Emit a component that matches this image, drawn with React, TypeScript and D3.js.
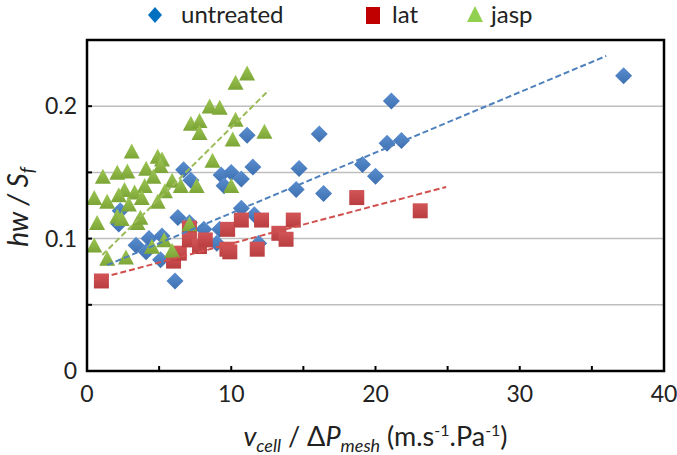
import React from "react";
import * as d3 from "d3";

// ---- data ----
const untreatedX = [37.2, 21.1, 16.1, 11.1, 20.8, 21.8, 19.1, 20.0, 14.7, 14.5, 16.4, 11.5, 6.7, 7.2, 9.3, 10.0, 10.7, 9.5, 10.7, 11.6, 6.3, 7.1, 2.2, 2.3, 8.1, 9.2, 4.3, 5.2, 3.4, 4.1, 5.1, 9.0, 11.9, 6.1];
const untreatedY = [0.223, 0.204, 0.179, 0.178, 0.172, 0.174, 0.156, 0.147, 0.153, 0.137, 0.134, 0.154, 0.152, 0.144, 0.148, 0.150, 0.145, 0.140, 0.123, 0.118, 0.116, 0.112, 0.111, 0.121, 0.107, 0.107, 0.100, 0.102, 0.095, 0.090, 0.084, 0.0965, 0.0965, 0.068];

const latX = [1.0, 6.0, 6.4, 7.1, 7.1, 7.8, 8.2, 9.75, 10.7, 12.1, 9.7, 9.9, 11.8, 13.3, 13.8, 14.3, 18.7, 23.1];
const latY = [0.068, 0.083, 0.089, 0.108, 0.099, 0.094, 0.099, 0.107, 0.114, 0.114, 0.092, 0.090, 0.092, 0.104, 0.0995, 0.114, 0.131, 0.121];

const jaspX = [11.1, 10.3, 8.5, 9.2, 7.2, 7.8, 7.8, 10.3, 10.1, 12.3, 8.7, 10.0, 3.1, 4.9, 5.2, 5.1, 4.1, 4.6, 1.1, 2.1, 2.8, 5.9, 6.5, 7.6, 4.0, 2.6, 3.3, 2.2, 5.4, 3.8, 0.5, 1.4, 2.9, 4.9, 2.1, 2.4, 3.5, 3.7, 0.7, 7.1, 0.5, 1.4, 2.7, 4.5, 5.35, 5.9];
const jaspY = [0.224, 0.217, 0.199, 0.198, 0.186, 0.188, 0.179, 0.189, 0.174, 0.180, 0.158, 0.139, 0.165, 0.161, 0.159, 0.154, 0.152, 0.146, 0.146, 0.149, 0.150, 0.143, 0.139, 0.139, 0.139, 0.136, 0.134, 0.132, 0.135, 0.130, 0.130, 0.127, 0.125, 0.127, 0.116, 0.114, 0.111, 0.115, 0.111, 0.110, 0.094, 0.084, 0.085, 0.093, 0.098, 0.090];

// trendline endpoints [x0, y0, x1, y1]
const trendUntreated = [1.4, 0.080, 36.0, 0.238];
const trendLat = [0.5, 0.069, 24.9, 0.139];
const trendJasp = [1.06, 0.0876, 12.6, 0.212];

const xTicks = [0, 10, 20, 30, 40];
const xMinorTicks = [5, 10, 15, 20, 25, 30, 35];
const yTickLabels = [0, 0.1, 0.2];
const yMinorTicks = [0.05, 0.1, 0.15, 0.2];
const gridValues = [0.05, 0.1, 0.15, 0.2];

const seriesNames = ["untreated", "lat", "jasp"];

// ---- layout ----
const W = 677, H = 455;
const L = 87, R = 664, T = 40, B = 371;
const FONT = "Lato, 'Open Sans', sans-serif";

const C = { blueLeg: "#0070C0", redLeg: "#C00000", greenLeg: "#92D050" };

const diamond = "M0,-8.5L8.5,0L0,8.5L-8.5,0Z";
const square = "M-7.5,-7.5H7.5V7.5H-7.5Z";
const triangle = "M0,-9L8,6L-8,6Z";

export default function App() {
  const x = d3.scaleLinear().domain([0, 40]).range([L, R]);
  const y = d3.scaleLinear().domain([0, 0.25]).range([B, T]);

  const pts = (xs: number[], ys: number[]) => xs.map((v, i) => [x(v), y(ys[i])]);
  const trend = (t: number[], color: string) => (
    <line x1={x(t[0])} y1={y(t[1])} x2={x(t[2])} y2={y(t[3])} stroke={color} strokeWidth={2} strokeDasharray="6,3" />
  );

  return (
    <svg width={W} height={H} style={{ position: "absolute", left: 0, top: 0, background: "#fff" }} fontFamily={FONT}>
      <defs>
        <linearGradient id="gb" x1="0" y1="0" x2="0" y2="1">
          <stop offset="0" stopColor="#5A8ED0" />
          <stop offset="1" stopColor="#3E70B0" />
        </linearGradient>
        <linearGradient id="gr" x1="0" y1="0" x2="0" y2="1">
          <stop offset="0" stopColor="#D25457" />
          <stop offset="1" stopColor="#B93E40" />
        </linearGradient>
        <linearGradient id="gg" x1="0" y1="0" x2="0" y2="1">
          <stop offset="0" stopColor="#9CC653" />
          <stop offset="1" stopColor="#7CA537" />
        </linearGradient>
      </defs>
      <rect width={W} height={H} fill="#fff" />
      {/* grid */}
      {gridValues.map((g) => (
        <line key={g} x1={L} x2={R} y1={y(g)} y2={y(g)} stroke="#BEBEBE" strokeWidth={1.5} />
      ))}
      {/* markers */}
      {pts(untreatedX, untreatedY).map(([px, py], i) => (
        <path key={"u" + i} d={diamond} transform={`translate(${px},${py})`} fill="url(#gb)" />
      ))}
      {pts(latX, latY).map(([px, py], i) => (
        <path key={"l" + i} d={square} transform={`translate(${px},${py})`} fill="url(#gr)" />
      ))}
      {pts(jaspX, jaspY).map(([px, py], i) => (
        <path key={"j" + i} d={triangle} transform={`translate(${px},${py})`} fill="url(#gg)" />
      ))}
      {/* trendlines */}
      {trend(trendUntreated, "#4F81BD")}
      {trend(trendLat, "#D0504D")}
      {trend(trendJasp, "#9BBB59")}
      {/* frame */}
      <rect x={L} y={T} width={R - L} height={B - T} fill="none" stroke="#000" strokeWidth={2.5} />
      {/* ticks */}
      {xMinorTicks.map((t) => (
        <line key={"xt" + t} x1={x(t)} x2={x(t)} y1={B} y2={B - 5} stroke="#000" strokeWidth={2} />
      ))}
      {yMinorTicks.map((t) => (
        <line key={"yt" + t} x1={L} x2={L + 5} y1={y(t)} y2={y(t)} stroke="#000" strokeWidth={2} />
      ))}
      {xTicks.map((t) => (
        <text key={"xl" + t} x={x(t)} y={B + 31} textAnchor="middle" fontSize={23} fill="#222">{t}</text>
      ))}
      {yTickLabels.map((t) => (
        <text key={"yl" + t} x={L - 10} y={y(t) + 8} textAnchor="end" fontSize={23} fill="#222">{t}</text>
      ))}
      {/* axis titles */}
      <text x={(L + R) / 2} y={446} textAnchor="middle" fontSize={27} fill="#222">
        <tspan fontStyle="italic">v</tspan>
        <tspan fontStyle="italic" fontSize={18} dy={6}>cell</tspan>
        <tspan dy={-6}> / Δ</tspan>
        <tspan fontStyle="italic">P</tspan>
        <tspan fontStyle="italic" fontSize={18} dy={6}>mesh</tspan>
        <tspan dy={-6}> (m.s</tspan>
        <tspan fontSize={16} dy={-10}>-1</tspan>
        <tspan dy={10}>.Pa</tspan>
        <tspan fontSize={16} dy={-10}>-1</tspan>
        <tspan dy={10}>)</tspan>
      </text>
      <text transform={`translate(28,207) rotate(-90)`} textAnchor="middle" fontSize={28} fill="#222">
        <tspan fontStyle="italic">hw / S</tspan>
        <tspan fontStyle="italic" fontSize={19} dy={6}>f</tspan>
      </text>
      {/* legend */}
      <path d="M0,-8L7,0L0,8L-7,0Z" transform="translate(155,15)" fill={C.blueLeg} />
      <text x={181} y={23} fontSize={24} fill="#222">{seriesNames[0]}</text>
      <rect x={366} y={7} width={14} height={17} fill={C.redLeg} />
      <text x={392} y={23} fontSize={24} fill="#222">{seriesNames[1]}</text>
      <path d="M0,-9L8,7L-8,7Z" transform="translate(475,15)" fill={C.greenLeg} />
      <text x={491} y={23} fontSize={24} fill="#222">{seriesNames[2]}</text>
    </svg>
  );
}
